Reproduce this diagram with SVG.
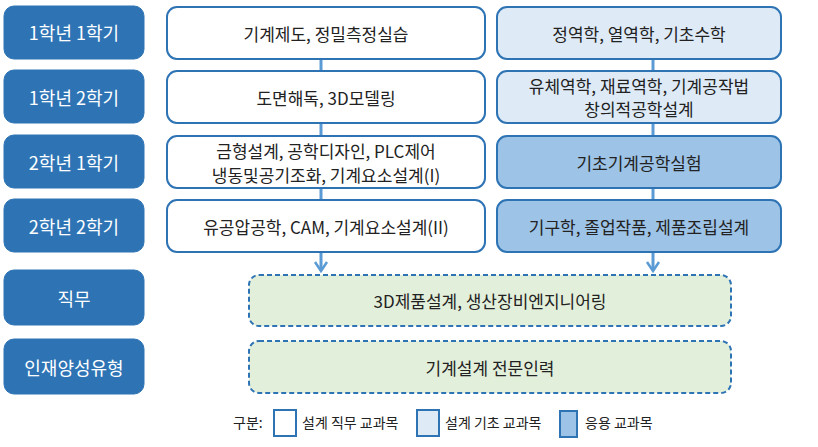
<svg xmlns="http://www.w3.org/2000/svg" width="818" height="447" viewBox="0 0 818 447">
<defs>
<style>
text{font-family:"Noto Sans CJK KR","Noto Sans",sans-serif;font-size:17px;text-anchor:middle;dominant-baseline:central;fill:#222}
.lab rect{fill:#2e74b5;stroke:#2e74b5}
.lab text{fill:#fff;font-size:18px}
.w{fill:#fff;stroke:#2e74b5;stroke-width:2}
.b1{fill:#deebf7;stroke:#2e74b5;stroke-width:2}
.b2{fill:#9dc3e6;stroke:#2e74b5;stroke-width:2}
.g{fill:#e2efda;stroke:#2e74b5;stroke-width:2;stroke-dasharray:5 3}
.c{stroke:#5b9bd5;stroke-width:3;fill:none}
.ah{stroke:#5b9bd5;stroke-width:2.5;fill:none}
.lg{font-size:14px;text-anchor:start}
</style>
</defs>
<g id="connectors">
<path class="c" d="M321 59V271"/>
<path class="c" d="M653 59V271"/>
<path class="ah" d="M315 262L321 271L327 262"/>
<path class="ah" d="M647 262L653 271L659 262"/>
</g>
<g id="l1" class="lab"><rect x="4" y="6" width="140" height="53" rx="10"/><text x="74" y="32">1학년 1학기</text></g>
<g id="l2" class="lab"><rect x="4" y="70" width="140" height="53" rx="10"/><text x="74" y="97">1학년 2학기</text></g>
<g id="l3" class="lab"><rect x="4" y="135" width="140" height="53" rx="10"/><text x="74" y="162">2학년 1학기</text></g>
<g id="l4" class="lab"><rect x="4" y="199" width="140" height="53" rx="10"/><text x="74" y="226">2학년 2학기</text></g>
<g id="l5" class="lab"><rect x="4" y="270" width="140" height="55" rx="10"/><text x="74" y="298">직무</text></g>
<g id="l6" class="lab"><rect x="4" y="339" width="140" height="55" rx="10"/><text x="74" y="367">인재양성유형</text></g>
<g id="m1"><rect class="w" x="167" y="7" width="318" height="52" rx="10"/><text x="326" y="33">기계제도, 정밀측정실습</text></g>
<g id="m2"><rect class="w" x="167" y="71" width="318" height="52" rx="10"/><text x="326" y="97">도면해독, 3D모델링</text></g>
<g id="m3"><rect class="w" x="167" y="136" width="318" height="52" rx="10"/><text x="326" y="150">금형설계, 공학디자인, PLC제어</text><text x="326" y="174">냉동및공기조화, 기계요소설계(I)</text></g>
<g id="m4"><rect class="w" x="167" y="200" width="318" height="52" rx="10"/><text x="326" y="226">유공압공학, CAM, 기계요소설계(II)</text></g>
<g id="r1"><rect class="b1" x="497" y="7" width="284" height="52" rx="10"/><text x="639" y="33">정역학, 열역학, 기초수학</text></g>
<g id="r2"><rect class="b1" x="497" y="71" width="284" height="52" rx="10"/><text x="639" y="85">유체역학, 재료역학, 기계공작법</text><text x="639" y="108">창의적공학설계</text></g>
<g id="r3"><rect class="b2" x="497" y="136" width="284" height="52" rx="10"/><text x="639" y="162">기초기계공학실험</text></g>
<g id="r4"><rect class="b2" x="497" y="200" width="284" height="52" rx="10"/><text x="639" y="226">기구학, 졸업작품, 제품조립설계</text></g>
<g id="job"><rect class="g" x="249" y="275" width="482" height="51" rx="10"/><text x="490" y="300">3D제품설계, 생산장비엔지니어링</text></g>
<g id="type"><rect class="g" x="249" y="341" width="482" height="52" rx="10"/><text x="490" y="367">기계설계 전문인력</text></g>
<g id="legend">
<text class="lg" x="233" y="422">구분:</text>
<rect class="w" x="274" y="410" width="22" height="26"/><text class="lg" x="302" y="422">설계 직무 교과목</text>
<rect class="b1" x="417" y="410" width="22" height="26"/><text class="lg" x="445" y="422">설계 기초 교과목</text>
<rect class="b2" x="560" y="411" width="17" height="26"/><text class="lg" x="585" y="422">응용 교과목</text>
</g>
</svg>
